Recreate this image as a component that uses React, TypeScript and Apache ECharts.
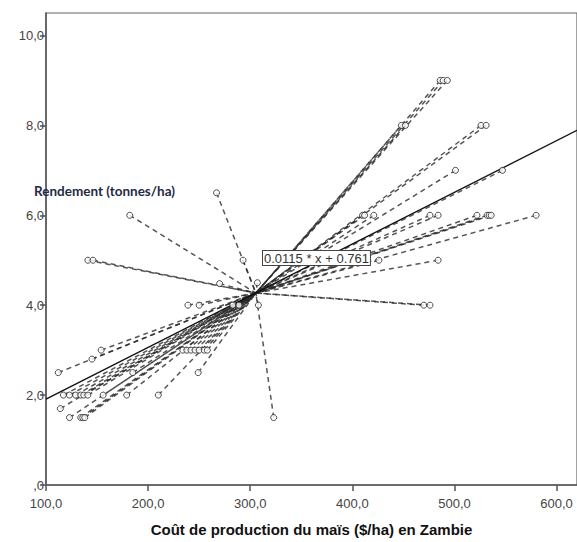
import React, { useEffect, useRef } from "react";
import * as echarts from "echarts";

// Coût de production ($/ha) and rendement (tonnes/ha) of each observation
const costX: number[] = [
  486, 489, 493, 448, 452, 526, 531, 501, 547,
  410, 412, 421, 476, 484, 522, 532, 534, 536, 580,
  426, 484, 470, 476,
  267, 182, 141, 146, 293,
  270, 307, 308, 239, 250, 283, 289,
  323,
  112, 145, 154,
  117, 123, 129, 134, 137, 141,
  114,
  123, 134, 136, 138,
  156, 179, 210,
  185, 249,
  234, 238, 242, 246, 250, 255, 258,
];
const yieldY: number[] = [
  9.0, 9.0, 9.0, 8.0, 8.0, 8.0, 8.0, 7.0, 7.0,
  6.0, 6.0, 6.0, 6.0, 6.0, 6.0, 6.0, 6.0, 6.0, 6.0,
  5.0, 5.0, 4.0, 4.0,
  6.5, 6.0, 5.0, 5.0, 5.0,
  4.48, 4.5, 4.0, 4.0, 4.0, 4.0, 4.0,
  1.5,
  2.5, 2.8, 3.0,
  2.0, 2.0, 2.0, 2.0, 2.0, 2.0,
  1.7,
  1.5, 1.5, 1.5, 1.5,
  2.0, 2.0, 2.0,
  2.5, 2.5,
  3.0, 3.0, 3.0, 3.0, 3.0, 3.0, 3.0,
];
// centroid (mean cost, mean yield) that every spike joins
const centroid: number[] = [305.5, 4.27];
// fit line
const slope = 0.0115;
const intercept = 0.761;
const fitLabel = "0.0115 * x + 0.761";
const xTicks = { min: 100, max: 620, interval: 100 };
const yTicks = { min: 0, max: 10.5, interval: 2 };
const xTitle = "Coût de production du maïs ($/ha) en Zambie";
const yTitle = "Rendement (tonnes/ha)";

const fmt = (v: number) => (v === 0 ? ",0" : v.toFixed(1).replace(".", ","));

export default function App() {
  const ref = useRef<HTMLDivElement>(null);
  useEffect(() => {
    if (!ref.current) return;
    const chart = echarts.init(ref.current, undefined, { renderer: "svg" });
    const points = costX.map((x, i) => [x, yieldY[i]]);
    const fit = [xTicks.min, xTicks.max].map((x) => [x, slope * x + intercept]);
    chart.setOption({
      animation: false,
      grid: {
        left: 46,
        top: 13,
        right: -2,
        bottom: 51.5,
        show: true,
        borderColor: "#666",
        borderWidth: 1.2,
      },
      xAxis: {
        type: "value",
        min: xTicks.min,
        max: xTicks.max,
        interval: xTicks.interval,
        splitLine: { show: false },
        axisLine: { show: true, lineStyle: { color: "#555", width: 1.5 } },
        axisTick: { show: true, length: 6, lineStyle: { color: "#555", width: 1.5 } },
        axisLabel: {
          formatter: fmt,
          color: "#444",
          fontSize: 13,
          fontFamily: "Liberation Sans, Arial",
          margin: 12,
        },
        name: xTitle,
        nameLocation: "middle",
        nameGap: 37,
        nameTextStyle: {
          fontSize: 15,
          fontWeight: "bold",
          color: "#111",
          fontFamily: "Liberation Sans, Arial",
        },
      },
      yAxis: {
        type: "value",
        min: yTicks.min,
        max: yTicks.max,
        interval: yTicks.interval,
        splitLine: { show: false },
        axisLine: { show: true, lineStyle: { color: "#555", width: 1.5 } },
        axisTick: { show: true, length: 6, lineStyle: { color: "#555", width: 1.5 } },
        axisLabel: {
          formatter: fmt,
          color: "#444",
          fontSize: 13,
          fontFamily: "Liberation Sans, Arial",
          margin: 2,
          showMaxLabel: false,
        },
      },
      series: [
        {
          type: "lines",
          coordinateSystem: "cartesian2d",
          silent: true,
          z: 1,
          data: points.map((p) => ({ coords: [p, centroid] })),
          lineStyle: { color: "#2a2a2a", width: 1.5, type: [5, 4], opacity: 0.8 },
        },
        {
          type: "line",
          data: fit,
          symbol: "none",
          silent: true,
          z: 2,
          lineStyle: { color: "#111", width: 1.4 },
        },
        {
          type: "scatter",
          data: points,
          symbol: "circle",
          symbolSize: 6,
          z: 3,
          itemStyle: { color: "#fff", borderColor: "#222", borderWidth: 1 },
        },
      ],
      graphic: [
        {
          type: "text",
          left: 262,
          top: 250,
          z: 10,
          style: {
            text: fitLabel,
            fill: "#333",
            fontSize: 13,
            fontFamily: "Liberation Sans, Arial",
            backgroundColor: "#fff",
            borderColor: "#444",
            borderWidth: 1,
            padding: [1, 1, 0, 1],
          },
        },
        {
          type: "text",
          left: 34,
          top: 184,
          z: 10,
          style: {
            text: yTitle,
            fill: "#1f2a44",
            fontSize: 13.5,
            fontWeight: "bold",
            fontFamily: "Lato, Open Sans",
          },
        },
      ],
    });
    return () => chart.dispose();
  }, []);
  return (
    <div
      ref={ref}
      style={{ position: "absolute", left: 0, top: 0, width: 577, height: 542, background: "#fff" }}
    />
  );
}
